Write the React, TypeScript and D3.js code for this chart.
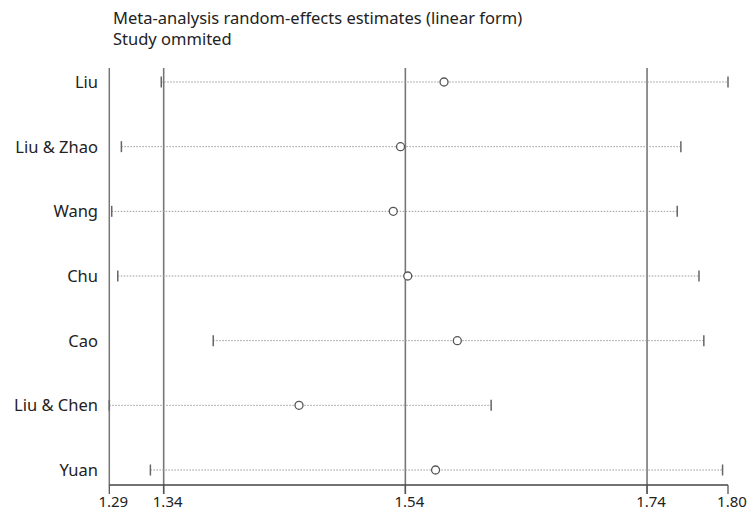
import React from "react";
import * as d3 from "d3";

const studies = ["Liu", "Liu & Zhao", "Wang", "Chu", "Cao", "Liu & Chen", "Yuan"];
const estimates = [1.572, 1.536, 1.530, 1.542, 1.583, 1.452, 1.565];
const lowers = [1.338, 1.305, 1.297, 1.302, 1.381, 1.295, 1.329];
const uppers = [1.807, 1.768, 1.765, 1.783, 1.787, 1.611, 1.8025];
const refLines = [1.34, 1.54, 1.74];
const tickValues = [1.295, 1.34, 1.54, 1.74, 1.807];
const tickLabels = ["1.29", "1.34", "1.54", "1.74", "1.80"];
const titleLines = ["Meta-analysis random-effects estimates (linear form)", "Study ommited"];

const W = 750;
const H = 515;
const left = 109.3;
const right = 728;
const top = 68;
const axisY = 485;
const font = "'Noto Sans', 'DejaVu Sans', sans-serif";

export default function App() {
  const x = d3.scaleLinear().domain([tickValues[0], tickValues[tickValues.length - 1]]).range([left, right]);
  const y = d3.scalePoint<string>().domain(studies).range([82, 470]);

  return (
    <svg
      width={W}
      height={H}
      viewBox={`0 0 ${W} ${H}`}
      style={{ position: "absolute", left: 0, top: 0, background: "#fff" }}
    >
      <rect x={0} y={0} width={W} height={H} fill="#fff" />
      {titleLines.map((t, i) => (
        <text key={t} x={113} y={23.5 + i * 21.5} fontFamily={font} fontSize={16.5} fill="#222">
          {t}
        </text>
      ))}
      {/* left axis line */}
      <line x1={left} x2={left} y1={top} y2={axisY} stroke="#777" strokeWidth={1.5} />
      {/* reference lines */}
      {refLines.map((v) => (
        <line key={v} x1={x(v)} x2={x(v)} y1={top} y2={axisY + 9} stroke="#777" strokeWidth={1.6} />
      ))}
      {/* rows */}
      {studies.map((s, i) => {
        const yy = y(s) as number;
        return (
          <g key={s}>
            <text x={98} y={yy + 6} textAnchor="end" fontFamily={font} fontSize={16.5} fill="#222">
              {s}
            </text>
            <line
              x1={x(lowers[i])}
              x2={x(uppers[i])}
              y1={yy}
              y2={yy}
              stroke="#999"
              strokeWidth={1}
              strokeDasharray="1.5 1.5"
            />
            <line x1={x(lowers[i])} x2={x(lowers[i])} y1={yy - 5.5} y2={yy + 5.5} stroke="#666" strokeWidth={1.5} />
            <line x1={x(uppers[i])} x2={x(uppers[i])} y1={yy - 5.5} y2={yy + 5.5} stroke="#666" strokeWidth={1.5} />
            <circle cx={x(estimates[i])} cy={yy} r={4} fill="#fff" stroke="#555" strokeWidth={1.3} />
          </g>
        );
      })}
      {/* bottom axis */}
      <line x1={left} x2={right} y1={axisY} y2={axisY} stroke="#444" strokeWidth={1.3} />
      {tickValues.map((v, i) => (
        <g key={i}>
          <line x1={x(v)} x2={x(v)} y1={axisY} y2={axisY + 9} stroke="#555" strokeWidth={1.3} />
          <text x={x(v) + 4} y={507} textAnchor="middle" fontFamily={font} fontSize={15} fill="#222">
            {tickLabels[i]}
          </text>
        </g>
      ))}
    </svg>
  );
}
